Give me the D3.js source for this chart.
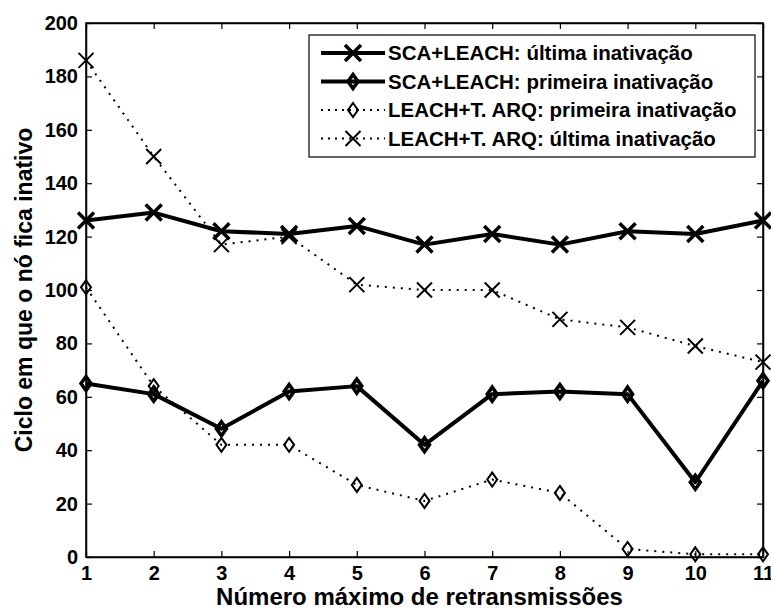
<!DOCTYPE html>
<html lang="pt">
  <head>
    <meta charset="UTF-8" />
    <title>Ciclo de inativação</title>
    <style>
      body { margin: 0; background: #fff; }
      text { font-family: "Liberation Sans", Arial, sans-serif; font-weight: bold; fill: #000; }
    </style>
  </head>
  <body>
    <script src="https://cdn.jsdelivr.net/npm/d3@7"></script>
    <script>
      // data
      const retrans = [1, 2, 3, 4, 5, 6, 7, 8, 9, 10, 11];
      const scaUltima = [126, 129, 122, 121, 124, 117, 121, 117, 122, 121, 126];
      const scaPrimeira = [65, 61, 48, 62, 64, 42, 61, 62, 61, 28, 66];
      const arqPrimeira = [101, 64, 42, 42, 27, 21, 29, 24, 3, 1, 1];
      const arqUltima = [186, 150, 117, 120, 102, 100, 100, 89, 86, 79, 73];
      const yTicks = [0, 20, 40, 60, 80, 100, 120, 140, 160, 180, 200];

      const series = [
        { name: 'SCA+LEACH: última inativação', values: scaUltima, thick: true, marker: 'x' },
        { name: 'SCA+LEACH: primeira inativação', values: scaPrimeira, thick: true, marker: 'd' },
        { name: 'LEACH+T. ARQ: primeira inativação', values: arqPrimeira, thick: false, marker: 'd' },
        { name: 'LEACH+T. ARQ: última inativação', values: arqUltima, thick: false, marker: 'x' }
      ];

      const width = 771;
      const height = 613;
      const margin = { top: 23, right: 8, bottom: 56, left: 86 };
      const innerWidth = width - margin.left - margin.right;
      const innerHeight = height - margin.top - margin.bottom;

      const svg = d3.select('body').append('svg')
        .attr('width', width).attr('height', height);
      const g = svg.append('g')
        .attr('transform', `translate(${margin.left},${margin.top})`);

      const x = d3.scaleLinear().domain([1, 11]).range([0, innerWidth]);
      const y = d3.scaleLinear().domain([0, 200]).range([innerHeight, 0]);

      // frame
      g.append('rect')
        .attr('width', innerWidth).attr('height', innerHeight)
        .attr('fill', 'none').attr('stroke', '#000').attr('stroke-width', 1.5);

      // axes, ticks pointing inward
      const tickFont = '"Liberation Sans Narrow", "Liberation Sans", Arial, sans-serif';
      const xAxis = g.append('g')
        .attr('transform', `translate(0,${innerHeight})`)
        .call(d3.axisBottom(x).tickValues(retrans).tickSizeInner(-6).tickSizeOuter(0).tickPadding(9));
      g.append('g')
        .call(d3.axisLeft(y).tickValues(yTicks).tickSizeInner(-6).tickSizeOuter(0).tickPadding(8));
      g.append('g')
        .call(d3.axisTop(x).tickValues(retrans).tickSizeInner(-6).tickSizeOuter(0).tickFormat(''));
      g.append('g')
        .attr('transform', `translate(${innerWidth},0)`)
        .call(d3.axisRight(y).tickValues(yTicks).tickSizeInner(-6).tickSizeOuter(0).tickFormat(''));
      g.selectAll('.domain').attr('stroke', '#000').attr('stroke-width', 1.5);
      g.selectAll('.tick line').attr('stroke', '#000').attr('stroke-width', 1.2);
      g.selectAll('.tick text')
        .style('font-size', '20px').style('font-family', tickFont)
        .style('font-weight', 'bold').attr('fill', '#000');
      xAxis.selectAll('.tick text').attr('dy', '0.72em');

      const line = d3.line()
        .x((d, i) => x(retrans[i]))
        .y((d) => y(d));

      const drawMarker = (sel, type, thick) => {
        if (type === 'x') {
          const s = thick ? 8 : 7.5;
          sel.append('path')
            .attr('d', `M${-s},${-s}L${s},${s}M${-s},${s}L${s},${-s}`)
            .attr('stroke', '#000')
            .attr('stroke-width', thick ? 3.5 : 2)
            .attr('fill', 'none');
        } else {
          const w = 5, h = 7;
          sel.append('path')
            .attr('d', `M0,${-h}L${w},0L0,${h}L${-w},0Z`)
            .attr('stroke', '#000')
            .attr('stroke-width', thick ? 3.5 : 2)
            .attr('fill', 'none');
        }
      };

      series.forEach((s) => {
        g.append('path')
          .datum(s.values)
          .attr('d', line)
          .attr('fill', 'none')
          .attr('stroke', '#000')
          .attr('stroke-width', s.thick ? 4 : 2)
          .attr('stroke-dasharray', s.thick ? null : '2,6')
          .attr('stroke-linejoin', 'round');

        g.selectAll(null)
          .data(s.values)
          .enter()
          .append('g')
          .attr('transform', (d, i) => `translate(${x(retrans[i])},${y(d)})`)
          .each(function () { drawMarker(d3.select(this), s.marker, s.thick); });
      });

      // legend
      const legend = svg.append('g').attr('transform', 'translate(309,35)');
      legend.append('rect')
        .attr('width', 446).attr('height', 122)
        .attr('fill', '#fff').attr('stroke', '#000').attr('stroke-width', 1.2);
      series.forEach((s, i) => {
        const row = legend.append('g').attr('transform', `translate(0,${18 + i * 28.5})`);
        row.append('line')
          .attr('x1', 12).attr('x2', 76)
          .attr('stroke', '#000')
          .attr('stroke-width', s.thick ? 4 : 2)
          .attr('stroke-dasharray', s.thick ? null : '2,5');
        const m = row.append('g').attr('transform', 'translate(44,0)');
        drawMarker(m, s.marker, s.thick);
        row.append('text')
          .attr('x', 79).attr('dy', '0.36em')
          .style('font-size', '20.5px')
          .text(s.name);
      });

      // axis labels
      svg.append('text')
        .attr('x', margin.left + innerWidth / 2 - 5)
        .attr('y', 605)
        .attr('text-anchor', 'middle')
        .style('font-size', '24px')
        .text('Número máximo de retransmissões');

      svg.append('text')
        .attr('transform', `translate(32,${margin.top + innerHeight / 2}) rotate(-90)`)
        .attr('text-anchor', 'middle')
        .style('font-size', '23px')
        .text('Ciclo em que o nó fica inativo');
    </script>
  </body>
</html>
